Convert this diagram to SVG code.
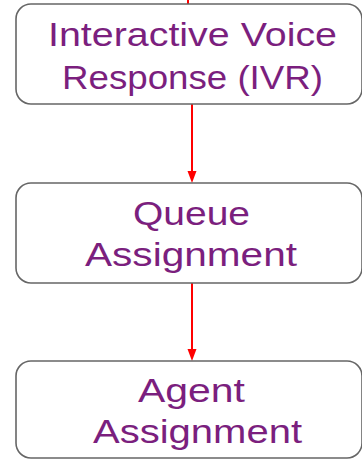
<svg xmlns="http://www.w3.org/2000/svg" width="362" height="459" viewBox="0 0 362 459">
<defs>
<style>
.box{fill:#ffffff;stroke:#666666;stroke-width:1.6}
.lbl{font-family:"Liberation Sans",Arial,sans-serif;font-size:34px;fill:#7b1f7e;text-anchor:middle}
.edge{stroke:#ff0000;stroke-width:2;fill:none}
.head{fill:#ff0000}
</style>
</defs>
<g id="connectors">
<line class="edge" x1="188" y1="0" x2="188" y2="4"/>
<line class="edge" x1="192" y1="104" x2="192" y2="172"/>
<path class="head" d="M187.5,171 L196.5,171 L192,183 Z"/>
<line class="edge" x1="192" y1="283" x2="192" y2="350"/>
<path class="head" d="M187.5,349 L196.5,349 L192,361 Z"/>
</g>
<g id="node-ivr">
<rect class="box" x="16" y="4" width="346" height="100" rx="15"/>
<text class="lbl" x="192.5" y="46" textLength="289" lengthAdjust="spacingAndGlyphs">Interactive Voice</text>
<text class="lbl" x="192.5" y="88.5" textLength="261" lengthAdjust="spacingAndGlyphs">Response (IVR)</text>
</g>
<g id="node-queue">
<rect class="box" x="16" y="183" width="346" height="100" rx="15"/>
<text class="lbl" x="191.5" y="225" textLength="117" lengthAdjust="spacingAndGlyphs">Queue</text>
<text class="lbl" x="191" y="266" textLength="212" lengthAdjust="spacingAndGlyphs">Assignment</text>
</g>
<g id="node-agent">
<rect class="box" x="16" y="361" width="346" height="97" rx="15"/>
<text class="lbl" x="191.5" y="402" textLength="107" lengthAdjust="spacingAndGlyphs">Agent</text>
<text class="lbl" x="197.5" y="443" textLength="209" lengthAdjust="spacingAndGlyphs">Assignment</text>
</g>
</svg>
